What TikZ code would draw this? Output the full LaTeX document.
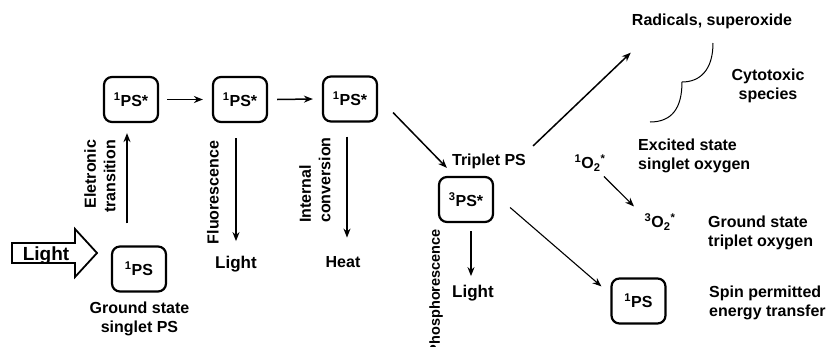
\documentclass[tikz,border=0pt]{standalone}
\usepackage{fontspec}
\setmainfont{Liberation Sans}
\usetikzlibrary{arrows.meta,calc}
\begin{document}
\begin{tikzpicture}[x=1pt,y=-1pt,
  font=\bfseries\fontsize{16}{19.5}\selectfont,
  psbox/.style={draw, line width=2.2pt, rounded corners=8pt, minimum width=54pt, minimum height=45pt, inner sep=0pt},
  arr/.style={-{Stealth[length=9pt,width=7pt]}, line width=1.5pt},
  thinarr/.style={-{Stealth[length=9pt,width=7pt]}, line width=1.1pt},
  lbl/.style={align=center, inner sep=0pt},
  lightlbl/.style={lbl, font=\bfseries\fontsize{17}{20}\selectfont}]
\useasboundingbox (0,0) rectangle (831,346);

% boxes
\node[psbox] (a1) at (131,99.5) {\textsuperscript{1}PS*};
\node[psbox] (a2) at (240,99.5) {\textsuperscript{1}PS*};
\node[psbox] (a3) at (350,99) {\textsuperscript{1}PS*};
\node[psbox] (g) at (139,269) {\textsuperscript{1}PS};
\node[psbox] (t) at (466,199.5) {\textsuperscript{3}PS*};
\node[psbox] (r) at (638.5,301) {\textsuperscript{1}PS};

% labels
\node[lbl] (gl) at (139.5,319) {Ground state\\singlet PS};
\node[lbl, align=right, rotate=90] (et) at (100,176.5) {Eletronic\\transition};
\node[lbl, rotate=90] (fl) at (213,192.5) {Fluorescence};
\node[lightlbl] (l1) at (236,264) {Light};
\node[lbl, align=left, rotate=90] (ic) at (315,180) {Internal\\conversion};
\node[lbl] (heat) at (343,262) {Heat};
\node[lbl] (tp) at (489,161) {Triplet PS};
\node[lbl, rotate=90, anchor=east, font=\bfseries\fontsize{14.5}{17}\selectfont] (ph) at (436,229) {Phosphorescence};
\node[lightlbl] (l2) at (473,293) {Light};
\node[lbl] (rad) at (712,21) {Radicals, superoxide};
\node[lbl] (cyt) at (768,86) {Cytotoxic\\species};
\node[lbl, align=left, anchor=west] (ex) at (638,156) {Excited state\\singlet oxygen};
\node[lbl] (o1) at (590,163) {\textsuperscript{1}O\textsubscript{2}\textsuperscript{*}};
\node[lbl] (o3) at (660,222) {\textsuperscript{3}O\textsubscript{2}\textsuperscript{*}};
\node[lbl, align=left, anchor=west] (gt) at (708,233) {Ground state\\triplet oxygen};
\node[lbl, align=left, anchor=west] (sp) at (709,303) {Spin permitted\\energy transfer};

% big light arrow
\draw[line width=1.8pt, fill=white] (12,243) -- (75,243) -- (75,229) -- (97,253) -- (75,277) -- (75,263) -- (12,263) -- cycle;
\node[lbl, font=\bfseries\fontsize{19}{22}\selectfont] (lt) at (46,255.5) {Light};

% connectors
\draw[arr] ($(a1.east)+(8,0)$) -- ($(a2.west)+(-9,0)$);
\draw[arr] ($(a2.east)+(9,0)$) -- ($(a3.west)+(-9,0)$);
\draw[arr] ($(g.north)+(-12,-22)$) -- ($(a1.south)+(-4,10)$);
\draw[arr] ($(a2.south)+(-4,15)$) -- ($(a2.south)+(-4,118)$);
\draw[arr] ($(a3.south)+(-3,14)$) -- ($(a3.south)+(-3,115)$);
\draw[arr] ($(a3.south east)+(15,-10)$) -- ($(t.north west)+(9,-8)$);
\draw[arr] ($(t.south)+(5,8)$) -- ($(t.south)+(5,53)$);
\draw[arr] ($(t.north east)+(39,-30)$) -- ($(rad.south west)+(-1,24)$);
\draw[thinarr] ($(t.east)+(16,8)$) -- ($(r.north west)+(-9,9)$);
\draw[thinarr] ($(o1.south)+(14,5)$) -- ($(o3.north)+(-26,-7)$);

% brace
\draw[line width=1pt] (713,43) .. controls (713,70) and (700,82) .. (682,82)
  .. controls (682,108) and (672,122) .. (650,122);
\end{tikzpicture}
\end{document}
